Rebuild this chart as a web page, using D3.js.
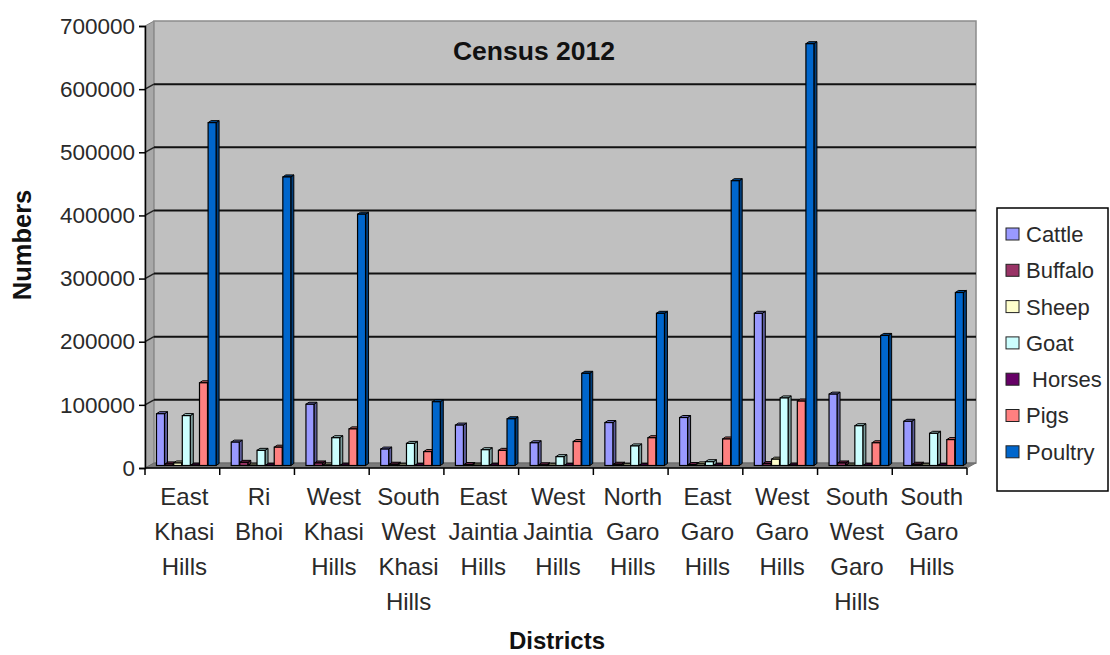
<!DOCTYPE html>
<html>
<head>
<meta charset="utf-8">
<script src="https://cdn.jsdelivr.net/npm/d3@7/dist/d3.min.js"></script>
<style>
  html, body { margin: 0; padding: 0; background: #fff; }
  svg { display: block; font-family: "Liberation Sans", Arial, sans-serif; }
</style>
</head>
<body>
<svg id="chart" width="1110" height="655"></svg>
<script>
// Livestock census 2012, by district
const districts = [
  "East Khasi Hills", "Ri Bhoi", "West Khasi Hills", "South West Khasi Hills",
  "East Jaintia Hills", "West Jaintia Hills", "North Garo Hills", "East Garo Hills",
  "West Garo Hills", "South West Garo Hills", "South Garo Hills"
];
const districtLines = [
  ["East", "Khasi", "Hills"], ["Ri", "Bhoi"], ["West", "Khasi", "Hills"],
  ["South", "West", "Khasi", "Hills"], ["East", "Jaintia", "Hills"],
  ["West", "Jaintia", "Hills"], ["North", "Garo", "Hills"], ["East", "Garo", "Hills"],
  ["West", "Garo", "Hills"], ["South", "West", "Garo", "Hills"], ["South", "Garo", "Hills"]
];
const seriesNames = ["Cattle", "Buffalo", "Sheep", "Goat", "Horses", "Pigs", "Poultry"];
const legendLabels = ["Cattle", "Buffalo", "Sheep", "Goat", " Horses", "Pigs", "Poultry"];
const seriesColors = ["#9999ff", "#993366", "#ffffcc", "#ccffff", "#660066", "#ff8080", "#0066cc"];

const cattle  = [82000, 37000, 97000, 26000, 64000, 36000, 68000, 76000, 241000, 113000, 70000];
const buffalo = [2500, 5000, 4000, 2000, 1500, 1000, 2000, 1500, 3000, 4000, 2000];
const sheep   = [4000, 500, 800, 300, 500, 300, 200, 2500, 10000, 500, 300];
const goat    = [79000, 24000, 44000, 35000, 25000, 14000, 31000, 6000, 107000, 63000, 51000];
const horses  = [500, 300, 400, 200, 300, 200, 200, 300, 500, 300, 200];
const pigs    = [131000, 29000, 58000, 22000, 24000, 38000, 44000, 42000, 102000, 36000, 41000];
const poultry = [543000, 457000, 398000, 101000, 74000, 146000, 241000, 451000, 668000, 206000, 274000];
const seriesValues = [cattle, buffalo, sheep, goat, horses, pigs, poultry];

const yTicks = [0, 100000, 200000, 300000, 400000, 500000, 600000, 700000];

const svg = d3.select("#chart");

// Geometry: front plane of the axes and the depth shift to the back wall
const frontLeft = 145, frontRight = 967;
const depthX = 9, depthY = -5;

const yBack = d3.scaleLinear().domain([0, 700000]).range([463, 21]);
const yFront = d3.scaleLinear().domain([0, 700000]).range([463 - depthY, 21 - depthY]);
const yMid = d3.scaleLinear().domain([0, 700000]).range([463 - depthY / 2, 21 - depthY / 2]);

const x = d3.scaleBand().domain(districts).range([frontLeft, frontRight]).paddingInner(0);
const xs = d3.scaleBand().domain(seriesNames).range([0, 60.2]).paddingInner(0);

const backLeft = frontLeft + depthX, backRight = frontRight + depthX;

// Left side wall
svg.append("polygon")
  .attr("points", [[frontLeft, yFront(0)], [frontLeft, yFront(700000)], [backLeft, yBack(700000)], [backLeft, yBack(0)]].join(" "))
  .attr("fill", "#a8a8a8").attr("stroke", "#808080").attr("stroke-width", 1);

// Back wall
svg.append("rect")
  .attr("x", backLeft).attr("y", yBack(700000))
  .attr("width", backRight - backLeft).attr("height", yBack(0) - yBack(700000))
  .attr("fill", "#c0c0c0").attr("stroke", "#8c8c8c").attr("stroke-width", 1.5);

// Floor
svg.append("polygon")
  .attr("points", [[frontLeft, yFront(0)], [frontRight, yFront(0)], [backRight, yBack(0)], [backLeft, yBack(0)]].join(" "))
  .attr("fill", "#7a7a7a").attr("stroke", "#666").attr("stroke-width", 0.8);

// Gridlines on the back wall and the side wall
const gridVals = yTicks.filter(v => v > 0 && v < 700000);
svg.append("g").selectAll("line").data(gridVals).join("line")
  .attr("x1", backLeft).attr("x2", backRight)
  .attr("y1", d => yBack(d)).attr("y2", d => yBack(d))
  .attr("stroke", "#111").attr("stroke-width", 2);
svg.append("g").selectAll("line").data(gridVals).join("line")
  .attr("x1", frontLeft).attr("x2", backLeft)
  .attr("y1", d => yFront(d)).attr("y2", d => yBack(d))
  .attr("stroke", "#222").attr("stroke-width", 1.5);

// 3D columns
const sideDx = 3, sideDy = -2, barW = 8;
function darker(c, k) { return d3.color(c).darker(k).formatHex(); }

const bars = [];
districts.forEach((d, i) => {
  seriesNames.forEach((s, j) => {
    bars.push({ district: d, series: s, value: seriesValues[j][i], color: seriesColors[j] });
  });
});

const barG = svg.append("g");
bars.forEach(b => {
  const x0 = x(b.district) + 7 + depthX / 2 + xs(b.series);
  const top = yMid(b.value), bottom = yMid(0);
  const g = barG.append("g");
  g.append("polygon")
    .attr("points", [[x0 + barW, top], [x0 + barW + sideDx, top + sideDy], [x0 + barW + sideDx, bottom + sideDy], [x0 + barW, bottom]].join(" "))
    .attr("fill", darker(b.color, 1.4)).attr("stroke", "#000").attr("stroke-width", 1);
  g.append("polygon")
    .attr("points", [[x0, top], [x0 + sideDx, top + sideDy], [x0 + barW + sideDx, top + sideDy], [x0 + barW, top]].join(" "))
    .attr("fill", darker(b.color, 0.8)).attr("stroke", "#000").attr("stroke-width", 1);
  g.append("rect")
    .attr("x", x0).attr("y", top).attr("width", barW).attr("height", bottom - top)
    .attr("fill", b.color).attr("stroke", "#000").attr("stroke-width", 1.2);
});

// Value axis on the front plane
const yAxis = svg.append("g")
  .attr("transform", `translate(${frontLeft},0)`)
  .call(d3.axisLeft(yFront).tickValues(yTicks).tickFormat(d3.format("d")).tickSize(6).tickPadding(4));
yAxis.select(".domain").attr("stroke", "#000").attr("stroke-width", 1.5);
yAxis.selectAll(".tick line").attr("stroke", "#000").attr("stroke-width", 1.5);
yAxis.selectAll(".tick text")
  .attr("font-size", 22.5).attr("fill", "#2a2a2a")
  .attr("font-family", "'Liberation Sans', Arial, sans-serif");

// Category axis on the front plane
const xAxisY = yFront(0);
svg.append("line")
  .attr("x1", frontLeft).attr("x2", frontRight)
  .attr("y1", xAxisY).attr("y2", xAxisY)
  .attr("stroke", "#000").attr("stroke-width", 1.5);
const bounds = districts.map(d => x(d)).concat([frontRight]);
svg.append("g").selectAll("line").data(bounds).join("line")
  .attr("x1", d => d).attr("x2", d => d)
  .attr("y1", xAxisY).attr("y2", xAxisY + 7)
  .attr("stroke", "#000").attr("stroke-width", 1.5);

const labelG = svg.append("g")
  .attr("font-size", 24).attr("fill", "#2a2a2a").attr("text-anchor", "middle");
districts.forEach((d, i) => {
  const cx = x(d) + x.bandwidth() / 2 + 2;
  const t = labelG.append("text").attr("x", cx).attr("y", 505);
  districtLines[i].forEach((line, k) => {
    t.append("tspan").attr("x", cx).attr("y", 505 + k * 35).text(line);
  });
});

// Titles
svg.append("text")
  .attr("x", 534).attr("y", 60).attr("text-anchor", "middle")
  .attr("font-size", 26.5).attr("font-weight", "bold").attr("fill", "#111")
  .text("Census 2012");
svg.append("text")
  .attr("transform", "translate(31,245) rotate(-90)")
  .attr("text-anchor", "middle")
  .attr("font-size", 25.5).attr("font-weight", "bold").attr("fill", "#111")
  .text("Numbers");
svg.append("text")
  .attr("x", 557).attr("y", 649).attr("text-anchor", "middle")
  .attr("font-size", 24).attr("font-weight", "bold").attr("fill", "#111")
  .text("Districts");

// Legend
const legend = svg.append("g");
legend.append("rect")
  .attr("x", 997).attr("y", 208).attr("width", 111).attr("height", 283)
  .attr("fill", "#fff").attr("stroke", "#000").attr("stroke-width", 1.5);
seriesNames.forEach((s, j) => {
  const cy = 234 + j * 36.3;
  legend.append("rect")
    .attr("x", 1006).attr("y", cy - 6).attr("width", 13).attr("height", 12)
    .attr("fill", seriesColors[j]).attr("stroke", "#222").attr("stroke-width", 1);
  legend.append("text")
    .attr("x", 1026).attr("y", cy).attr("dy", "0.36em")
    .attr("font-size", 22).attr("fill", "#2a2a2a")
    .style("white-space", "pre")
    .text(legendLabels[j]);
});
</script>
</body>
</html>
